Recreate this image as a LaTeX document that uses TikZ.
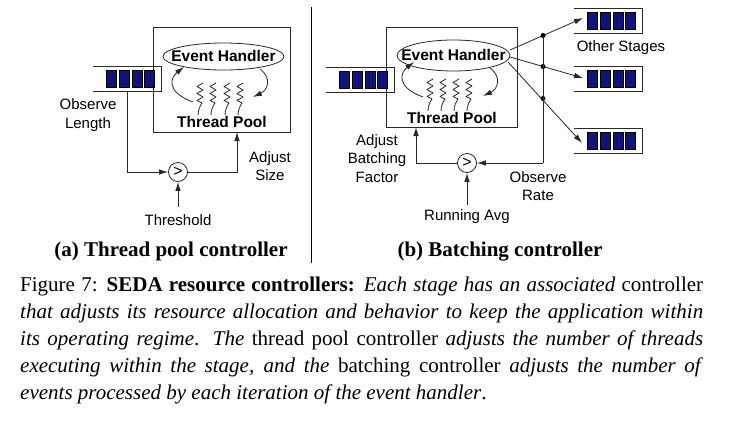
\documentclass[tikz,border=0pt]{standalone}
\usepackage{fontspec}
\setmainfont{Liberation Serif}
\setsansfont{Liberation Sans}
\usetikzlibrary{arrows.meta,shapes.geometric}
\definecolor{qblue}{RGB}{14,20,120}
\definecolor{ln}{RGB}{40,40,40}
\tikzset{
  lbl/.style={font=\sffamily\fontsize{15}{18.5}\selectfont, align=center, inner sep=0},
  bold/.style={font=\sffamily\bfseries\fontsize{15.5}{18}\selectfont, inner sep=0},
  wire/.style={draw=ln, line width=0.8pt},
  arr/.style={wire, -{Latex[length=9pt,width=5.5pt]}},
  cmp/.style={circle, draw=ln, line width=0.8pt, minimum size=19pt, inner sep=0, font=\sffamily\fontsize{16}{16}\selectfont},
  sq/.style={fill=qblue, draw=black, line width=0.6pt},
  dot/.style={circle, fill=black, inner sep=0, minimum size=5pt},
  captxt/.style={font=\fontsize{21}{27}\selectfont, inner sep=0, anchor=base west},
  subcap/.style={font=\bfseries\fontsize{21}{27}\selectfont, inner sep=0, anchor=base},
  squig/.pic={\draw[ln, line width=0.8pt, line join=round] (3,0) -- (-3,3.5) -- (3,7) -- (-3,10.5) -- (3,14) -- (-3,17.5) -- (2,20) .. controls (0,23) and (-2,27) .. (-2,32);}
}
\newcommand\queue[3]{% left x, top y, name
  \draw[wire] (#1,#2) -- ++(68,0) -- ++(0,25) -- ++(-68,0);
  \foreach \i in {0,1,2,3} {\draw[sq] (#1+13.5+\i*12.7,#2+4.5) rectangle ++(10,16.5);}
}
\begin{document}
\begin{tikzpicture}[x=1pt,y=-1pt]
\useasboundingbox (0,0) rectangle (737,429);
% separator
\draw[line width=0.8pt] (311,7) -- (311,263);

% ===== Panel (a) =====
\node[draw=ln, line width=0.8pt, minimum width=137pt, minimum height=105pt, anchor=north west, inner sep=0] (boxa) at (153,27) {};
\queue{93}{66}{qa}
\coordinate (qab) at (127,91);
\node[ellipse, draw=ln, line width=0.8pt, minimum width=121pt, minimum height=27pt, inner sep=0] (eha) at (223.5,56.5) {};
\node[bold] (eht) at (223.5,56) {Event Handler};
\node[bold] (tpa) at (222,122) {Thread Pool};
\foreach \x in {200,213,227,240} {\pic at (\x,83) {squig};}
\draw[arr] (193,102) .. controls (166,92) and (170,78) .. (184,67);
\draw[arr] (260,69) .. controls (272,78) and (268,90) .. (253,97);
\node[lbl] (ol) at (88,115) {Observe\\Length};
\node[cmp] (ca) at (178,172) {>};
\draw[arr] (qab) |- (ca.west);
\coordinate (asz) at (237,132);
\draw[arr] (ca.east) -| (asz);
\node[lbl] (as) at (270,166) {Adjust\\Size};
\node[lbl] (th) at (178,220) {Threshold};
\draw[arr] (178,207) -- (ca.south);

% ===== Panel (b) =====
\node[draw=ln, line width=0.8pt, minimum width=131pt, minimum height=100pt, anchor=north west, inner sep=0] (boxb) at (386,27) {};
\queue{326}{67}{qb}
\node[ellipse, draw=ln, line width=0.8pt, minimum width=113pt, minimum height=31pt, inner sep=0] (ehb) at (453.5,55.5) {};
\node[bold] (ehbt) at (453.5,55) {Event Handler};
\node[bold] (tpb) at (452,118) {Thread Pool};
\foreach \x in {430,443,456,469} {\pic at (\x,79) {squig};}
\draw[arr] (423,97) .. controls (396,87) and (400,73) .. (414,62);
\draw[arr] (490,68) .. controls (502,77) and (498,89) .. (483,96);
% output queues
\queue{574}{8}{q1}
\queue{574}{66}{q2}
\queue{574}{128}{q3}
\node[lbl] (os) at (621,48) {Other Stages};
\coordinate (s1) at (510,50);
\coordinate (s2) at (510,57);
\coordinate (s3) at (508,62);
\coordinate (t1) at (583,18);
\coordinate (t2) at (583,78);
\coordinate (t3) at (582,143);
\draw[arr] (s1) -- (t1);
\draw[arr] (s2) -- (t2);
\draw[arr] (s3) -- (t3);
\node[dot] (d1) at (543,35.5) {};
\node[dot] (d2) at (543,66.5) {};
\node[dot] (d3) at (543,98.5) {};
\node[cmp] (cb) at (467,163) {>};
\coordinate (vb) at (543,163);
\draw[wire] (d1.center) -- (vb);
\draw[arr] (vb) -- (cb.east);
\coordinate (abf) at (416,127);
\draw[arr] (cb.west) -| (abf);
\node[lbl] (ab) at (377,158.5) {Adjust\\Batching\\Factor};
\node[lbl] (orate) at (538,186) {Observe\\Rate};
\node[lbl] (ra) at (467,217) {Running Avg};
\draw[arr] (467,205) -- (cb.south);

% ===== captions =====
\node[subcap] (capa) at (171,256) {(a) Thread pool controller};
\node[subcap] (capb) at (500,256) {(b) Batching controller};
\node[captxt] (l1) at (20,291) {\makebox[683pt][s]{Figure 7: \textbf{SEDA resource controllers:} \textit{Each stage has an associated} controller}};
\node[captxt] (l2) at (20,318) {\makebox[683pt][s]{\textit{that adjusts its resource allocation and behavior to keep the application within}}};
\node[captxt] (l3) at (20,345) {\makebox[683pt][s]{\textit{its operating regime}. \textit{The} thread pool controller \textit{adjusts the number of threads}}};
\node[captxt] (l4) at (20,372) {\makebox[683pt][s]{\textit{executing within the stage, and the} batching controller \textit{adjusts the number of}}};
\node[captxt] (l5) at (20,399) {\textit{events processed by each iteration of the event handler}.};
\end{tikzpicture}
\end{document}
